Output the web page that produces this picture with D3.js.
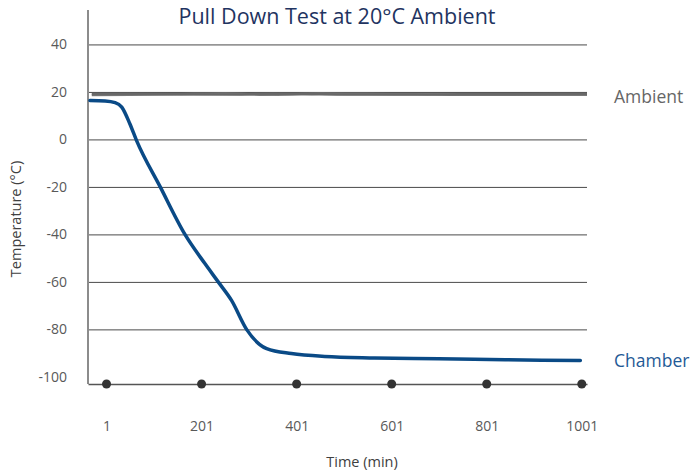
<!DOCTYPE html>
<html>
<head>
<meta charset="utf-8">
<script src="https://cdn.jsdelivr.net/npm/d3@7"></script>
<style>
  body { margin: 0; background: #fff; }
  text { font-family: "Open Sans", sans-serif; }
</style>
</head>
<body>
<svg class="pull-down" width="694" height="472"></svg>
<script>
// values
var chamberTime = [-34, -2, 19, 33, 50, 64, 114, 166, 208, 236, 264, 296, 338, 390, 460, 565, 700, 840, 998];
var chamberTemp = [16.4, 16.2, 15.5, 13.6, 6.6, -0.4, -20, -40, -52.3, -60, -67.8, -80.1, -88.1, -90.2, -91.4, -92, -92.4, -92.8, -93.1];

var ambientTime = [-30, 50, 150, 250, 350, 450, 550, 650, 750, 850, 950, 1012];
var ambientA = [19.0, 19.1, 19.0, 18.9, 19.2, 19.0, 18.9, 18.9, 19.0, 19.0, 19.1, 19.1];
var ambientB = [18.7, 18.8, 19.0, 19.2, 18.8, 19.2, 19.1, 19.0, 18.8, 18.8, 18.8, 18.8];

var xTicks = [1, 201, 401, 601, 801, 1001];
var yTicks = [-100, -80, -60, -40, -20, 0, 20, 40];

var svgWidth = 694, svgHeight = 472;
var svg = d3.select(".pull-down")
    .attr("width", svgWidth)
    .attr("height", svgHeight);

var plotLeft = 88, plotRight = 587, plotTop = 10, plotBottom = 384;

var x = d3.scaleLinear()
    .domain([-38, 1012])
    .range([plotLeft, plotRight]);

var y = d3.scaleLinear()
    .domain([-103, 54.5])
    .range([plotBottom, plotTop]);

// y axis with gridlines (plain hyphen for negatives, like the original)
var yAxis = svg.append("g")
    .attr("transform", "translate(" + plotLeft + ",0)")
    .call(d3.axisLeft(y)
        .tickValues(yTicks)
        .tickSize(-(plotRight - plotLeft))
        .tickPadding(21)
        .tickFormat(function(d) { return String(d); }));
yAxis.select(".domain").remove();
yAxis.selectAll(".tick line")
    .attr("stroke", "#4a4a4a")
    .attr("stroke-width", 1)
    .filter(function(d) { return d === -100; })
    .remove();
yAxis.selectAll(".tick text")
    .attr("fill", "#595959")
    .style("font-size", "14px");

// left axis line
svg.append("line")
    .attr("x1", plotLeft).attr("x2", plotLeft)
    .attr("y1", plotTop).attr("y2", plotBottom)
    .attr("stroke", "#8c8c8c")
    .attr("stroke-width", 2);

// x axis
var xAxis = svg.append("g")
    .attr("transform", "translate(0," + plotBottom + ")")
    .call(d3.axisBottom(x).tickValues(xTicks).tickSize(0).tickPadding(37).tickFormat(d3.format("d")));
xAxis.select(".domain")
    .attr("stroke", "#555")
    .attr("stroke-width", 1.5);
xAxis.selectAll(".tick text")
    .attr("fill", "#595959")
    .style("font-size", "14px");

// markers on the x axis
svg.append("g").selectAll("circle")
    .data(xTicks)
    .enter()
    .append("circle")
    .attr("cx", function(d) { return x(d); })
    .attr("cy", plotBottom)
    .attr("r", 4.5)
    .attr("fill", "#333");

function series(times, vals) {
    return times.map(function(t, i) { return { t: t, v: vals[i] }; });
}

var line = d3.line()
    .x(function(d) { return x(d.t); })
    .y(function(d) { return y(d.v); })
    .curve(d3.curveMonotoneX);

// ambient sensors
svg.append("path")
    .datum(series(ambientTime, ambientB))
    .attr("fill", "none")
    .attr("stroke", "#7f7f7f")
    .attr("stroke-width", 2.5)
    .attr("d", line);
svg.append("path")
    .datum(series(ambientTime, ambientA))
    .attr("fill", "none")
    .attr("stroke", "#686868")
    .attr("stroke-width", 2.5)
    .attr("d", line);

// chamber
svg.append("path")
    .datum(series(chamberTime, chamberTemp))
    .attr("fill", "none")
    .attr("stroke", "#0a4a86")
    .attr("stroke-width", 3.5)
    .attr("stroke-linejoin", "round")
    .attr("stroke-linecap", "round")
    .attr("d", line);

// texts
svg.append("text")
    .attr("x", 337)
    .attr("y", 24)
    .attr("text-anchor", "middle")
    .attr("fill", "#1f3461")
    .style("font-size", "21.5px")
    .text("Pull Down Test at 20°C Ambient");

svg.append("text")
    .attr("x", 614)
    .attr("y", 103)
    .attr("fill", "#666")
    .style("font-size", "17.5px")
    .text("Ambient");

svg.append("text")
    .attr("x", 614)
    .attr("y", 367)
    .attr("fill", "#1f5a96")
    .style("font-size", "17.5px")
    .text("Chamber");

svg.append("text")
    .attr("x", 362)
    .attr("y", 467)
    .attr("text-anchor", "middle")
    .attr("fill", "#404040")
    .style("font-size", "14.5px")
    .text("Time (min)");

svg.append("text")
    .attr("transform", "translate(21,219) rotate(-90)")
    .attr("text-anchor", "middle")
    .attr("fill", "#404040")
    .style("font-size", "14.5px")
    .text("Temperature (°C)");
</script>
</body>
</html>
